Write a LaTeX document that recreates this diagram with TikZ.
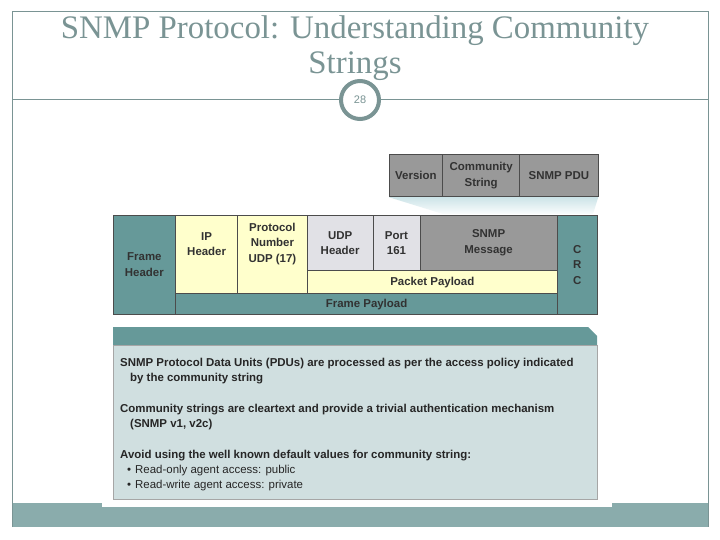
\documentclass[tikz,border=0pt]{standalone}
\usepackage{fontspec}
\setmainfont{Liberation Serif}
\setsansfont{Liberation Sans}
\usetikzlibrary{positioning}
\definecolor{SlideTeal}{RGB}{122,148,148}
\definecolor{BandTeal}{RGB}{138,172,172}
\definecolor{FrameTeal}{RGB}{102,153,153}
\definecolor{PaleYellow}{RGB}{255,255,204}
\definecolor{PaleGray}{RGB}{225,225,230}
\definecolor{MidGray}{RGB}{153,153,153}
\definecolor{NoteBlue}{RGB}{208,223,224}
\definecolor{FunnelBlue}{RGB}{205,228,232}
\definecolor{InkGray}{RGB}{50,50,50}

\begin{document}
\begin{tikzpicture}[x=1bp, y=-1bp, node distance=0pt,
    cell/.style={draw=black!70, line width=0.7bp, inner sep=0pt, outer sep=0pt, align=center, anchor=north west, font=\sffamily\bfseries\fontsize{11.5}{15.5}\selectfont, text=InkGray},
    celltext/.style={inner sep=0pt, align=center, font=\sffamily\bfseries\fontsize{11.5}{15.5}\selectfont, text=InkGray},
    notetext/.style={inner sep=0pt, anchor=north west, align=left, font=\sffamily\bfseries\fontsize{11.5}{15}\selectfont, text=black!85}]
    \useasboundingbox (0,0) rectangle (720,540);

    % slide frame
    \fill[BandTeal] (12,503) rectangle (708,527);
    \draw[SlideTeal, line width=1bp] (12,527) -- (12,12) -- (708,12) -- (708,527);
    \node[font=\fontsize{33}{35}\selectfont, text=SlideTeal, align=center] (title) at (355,48) {SNMP Protocol: Understanding Community\\Strings};
    \node[circle, draw=SlideTeal, line width=4bp, fill=white, minimum size=38bp, inner sep=0pt, font=\sffamily\fontsize{11}{11}\selectfont, text=SlideTeal] (pagenum) at (360,100) {28};
    \coordinate (ruleL) at (12,100);
    \coordinate (ruleR) at (708,100);
    \draw[SlideTeal, line width=1bp] (ruleL) -- (pagenum.west);
    \draw[SlideTeal, line width=1bp] (pagenum.east) -- (ruleR);

    % picture background
    \fill[white] (102,140) rectangle (612,507);

    % SNMP message fields
    \node[cell, fill=MidGray, minimum width=54, minimum height=43] (vers) at (389,154) {Version};
    \node[cell, fill=MidGray, minimum width=77, minimum height=43] (comm) at (vers.north east) {Community\\String};
    \node[cell, fill=MidGray, minimum width=79, minimum height=43] (pdu) at (comm.north east) {SNMP PDU};

    % frame
    \node[cell, fill=FrameTeal, minimum width=63, minimum height=100] (fhdr) at (113,215) {Frame\\Header};
    \node[cell, fill=PaleYellow, minimum width=62, minimum height=79] (iphdr) at (fhdr.north east) {};
    \node[cell, fill=PaleYellow, minimum width=70, minimum height=79] (protnum) at (iphdr.north east) {};
    \node[cell, fill=PaleGray, minimum width=66, minimum height=56] (udphdr) at (protnum.north east) {UDP\\Header};
    \node[cell, fill=PaleGray, minimum width=47, minimum height=56] (port) at (udphdr.north east) {Port\\161};
    \node[cell, fill=MidGray, minimum width=138, minimum height=56] (snmpmsg) at (port.north east) {SNMP\\Message};
    \node[cell, fill=FrameTeal, minimum width=40, minimum height=100] (crc) at (snmpmsg.north east) {C\\R\\C};
    \node[cell, fill=PaleYellow, minimum width=251, minimum height=23] (pktpay) at (udphdr.south west) {Packet Payload};
    \node[cell, fill=FrameTeal, minimum width=383, minimum height=21] (frmpay) at (iphdr.south west) {Frame Payload};
    \node[celltext] (iptext) at ([yshift=-29bp]iphdr.north) {IP\\Header};
    \node[celltext] (prottext) at ([yshift=-29bp]protnum.north) {Protocol\\Number\\UDP (17)};

    % funnel
    \shade[top color=FunnelBlue, bottom color=white!90!FunnelBlue] ([yshift=-0.4bp]vers.south west) -- ([yshift=-0.4bp]pdu.south east) -- (593,214) -- (443,214) -- cycle;

    % notes
    \fill[FrameTeal] (113,327) -- (588,327) -- (597,336) -- (597,345) -- (113,345) -- cycle;
    \draw[draw=black!35, fill=NoteBlue] (113,345) rectangle (597,499);
    \node[notetext] (pdus) at (120,358) {SNMP Protocol Data Units (PDUs) are processed as per the access policy indicated\\\hspace*{10bp}by the community string};
    \node[notetext] (clear) at (120,404) {Community strings are cleartext and provide a trivial authentication mechanism\\\hspace*{10bp}(SNMP v1, v2c)};
    \node[notetext] (avoid) at (120,450) {Avoid using the well known default values for community string:};
    \node[notetext, font=\sffamily\fontsize{11.5}{15.5}\selectfont] (values) at (127,465) {\textbullet\hspace{4bp}Read-only agent access: public\\\textbullet\hspace{4bp}Read-write agent access: private};
\end{tikzpicture}
\end{document}
